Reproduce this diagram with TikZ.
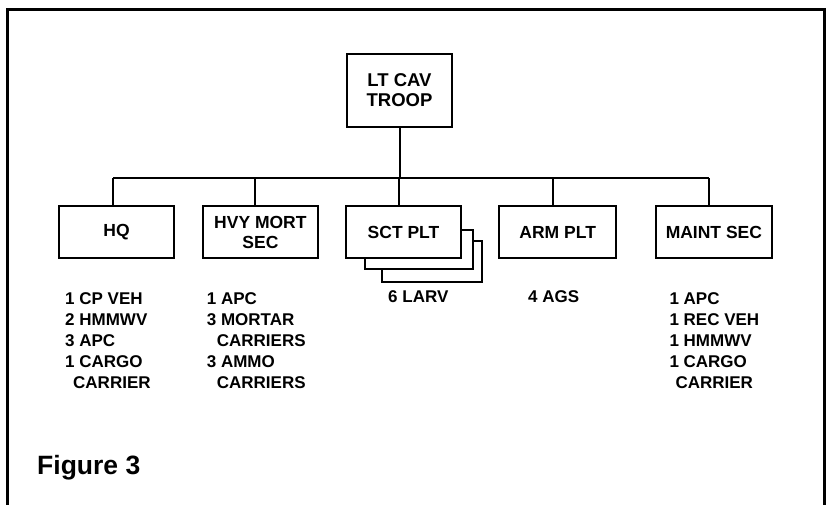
\documentclass[tikz,border=0pt]{standalone}
\usepackage{fontspec}
\setmainfont{Liberation Sans}
\begin{document}
\begin{tikzpicture}[x=1pt,y=-1pt,
  frame/.style={line width=3pt},
  unit/.style={draw,line width=2pt,fill=white,inner sep=0pt,align=center,
     font=\bfseries\fontsize{17.5}{20}\selectfont,minimum height=52pt},
  conn/.style={line width=2pt},
  shadowbox/.style={draw,line width=2pt,fill=white,inner sep=0pt},
  veh/.style={inner sep=0pt,anchor=north west,align=left,
     font=\bfseries\fontsize{17}{21}\selectfont}]
\useasboundingbox (0,0) rectangle (827,505);
% frame
\draw[frame] (7.5,505) -- (7.5,9.5) -- (824,9.5) -- (824,505);
% top node
\node[unit,font=\bfseries\fontsize{18.5}{20}\selectfont,minimum width=105pt,minimum height=73pt] (top) at (399.5,90.5) {LT CAV\\TROOP};
% shadows of SCT PLT
\node[shadowbox,minimum width=100pt,minimum height=41pt] (sh2) at (432,261.5) {};
\node[shadowbox,minimum width=108pt,minimum height=39pt] (sh1) at (419,249.5) {};
% second level
\node[unit,minimum width=115pt] (hq) at (116.5,232) {HQ};
\node[unit,minimum width=115pt] (hvy) at (260.4,232) {HVY MORT\\SEC};
\node[unit,minimum width=115pt] (sct) at (403.5,232) {SCT PLT};
\node[unit,minimum width=116.5pt] (arm) at (557.7,232) {ARM PLT};
\node[unit,minimum width=115.5pt] (maint) at (713.9,232) {MAINT SEC};
% connectors
\coordinate (bus) at (0,178);
\draw[conn] (top.south) -- (top.south |- bus);
\draw[conn] ([xshift=-3.5pt]hq.north |- bus) -- ([xshift=-4.5pt]maint.north |- bus);
\foreach \n/\s in {hq/-3.5,hvy/-5.4,sct/-4.2,arm/-4.4,maint/-4.6}{
  \draw[conn] ([xshift=\s pt]\n.north) -- ([xshift=\s pt]\n.north |- bus);
}
% vehicle lists
\node[veh] (lhq) at (65,292.8) {1 CP VEH\\2 HMMWV\\3 APC\\1 CARGO\\\hspace*{8pt}CARRIER};
\node[veh] (lhvy) at (206.7,292.8) {1 APC\\3 MORTAR\\\hspace*{10pt}CARRIERS\\3 AMMO\\\hspace*{10pt}CARRIERS};
\node[veh] (lsct) at (388,290) {6 LARV};
\node[veh] (larm) at (528,290) {4 AGS};
\node[veh] (lmaint) at (669.3,292.8) {1 APC\\1 REC VEH\\1 HMMWV\\1 CARGO\\\hspace*{6pt}CARRIER};
% caption
\node[inner sep=0pt,anchor=base west,font=\bfseries\fontsize{26.5}{30}\selectfont] (cap) at (37,474) {Figure 3};
\end{tikzpicture}
\end{document}
